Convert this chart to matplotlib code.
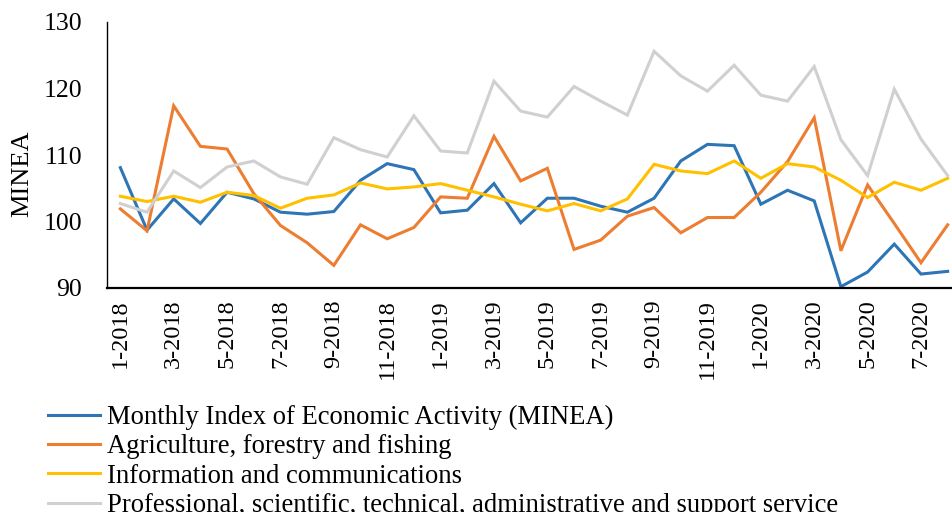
import numpy as np
import matplotlib
matplotlib.use("Agg")
import matplotlib.pyplot as plt

plt.rcParams['font.family'] = ['Liberation Serif', 'DejaVu Serif']

# month labels 1-2018 .. 8-2020
months = ['%d-%d' % (m, y) for y in (2018, 2019, 2020) for m in range(1, 13)][:32]

minea = [108.1, 98.7, 103.4, 99.7, 104.4, 103.4, 101.4, 101.1, 101.5, 106.2, 108.7,
         107.8, 101.3, 101.7, 105.7, 99.8, 103.5, 103.5, 102.3, 101.4, 103.5,
         109.1, 111.6, 111.4, 102.6, 104.7, 103.1, 90.2, 92.4, 96.6, 92.1, 92.5]
agri = [101.9, 98.6, 117.4, 111.3, 110.9, 104.2, 99.4, 96.8, 93.4, 99.5, 97.4,
        99.1, 103.7, 103.5, 112.8, 106.1, 108.0, 95.8, 97.2, 100.8, 102.1,
        98.3, 100.6, 100.6, 104.4, 109.0, 115.6, 95.6, 105.5, 99.7, 93.8, 99.5]
info = [103.8, 103.0, 103.8, 102.9, 104.4, 103.9, 102.0, 103.5, 104.0, 105.8, 104.9,
        105.2, 105.7, 104.7, 103.7, 102.6, 101.6, 102.7, 101.6, 103.4, 108.6,
        107.6, 107.2, 109.1, 106.5, 108.7, 108.2, 106.2, 103.6, 105.9, 104.7, 106.5]
prof = [102.7, 101.4, 107.6, 105.1, 108.2, 109.1, 106.7, 105.6, 112.6, 110.8, 109.7,
        115.9, 110.6, 110.3, 121.1, 116.6, 115.7, 120.3, 118.1, 116.0, 125.6,
        121.9, 119.6, 123.5, 119.0, 118.1, 123.3, 112.3, 106.9, 119.9, 112.4, 106.9]

series = [
    ('Monthly Index of Economic Activity (MINEA)', minea, '#2E75B6'),
    ('Agriculture, forestry and fishing', agri, '#ED7D31'),
    ('Information and communications', info, '#FFC000'),
    ('Professional, scientific, technical, administrative and support service', prof, '#D0D0D0'),
]

W, H = 953, 512
fig = plt.figure(figsize=(W / 100, H / 100), dpi=100)
ax = fig.add_axes([107 / W, (H - 288) / H, (961 - 107) / W, (288 - 22) / H])

x = np.arange(len(months))
for name, vals, col in series:
    ax.plot(x, vals, color=col, lw=2.2, label=name, solid_joinstyle='miter')

ax.set_xlim(-0.5, 31.5)
ax.set_ylim(90, 130)
ax.set_yticks([90, 100, 110, 120, 130])
ax.set_xticks(x[::2])
ax.set_xticklabels(months[::2], rotation=90, ha='center', va='top')
ax.tick_params(axis='both', length=0)
ax.tick_params(axis='y', pad=18, labelsize=18.5)
ax.tick_params(axis='x', pad=8, labelsize=17.5)

for s in ('top', 'right'):
    ax.spines[s].set_visible(False)
ax.spines['left'].set_linewidth(1.0)
ax.spines['bottom'].set_linewidth(1.6)

fig.text(22 / W, 1 - 174 / H, 'MINEA', rotation=90, ha='center', va='center', fontsize=19)

fig.legend(loc='upper left', bbox_to_anchor=(48 / W, 1 - 405 / H), frameon=False,
           fontsize=19.2, handlelength=1.95, handletextpad=0.25, labelspacing=0.16,
           borderpad=0, borderaxespad=0)

fig.savefig('out.png', dpi=100)
